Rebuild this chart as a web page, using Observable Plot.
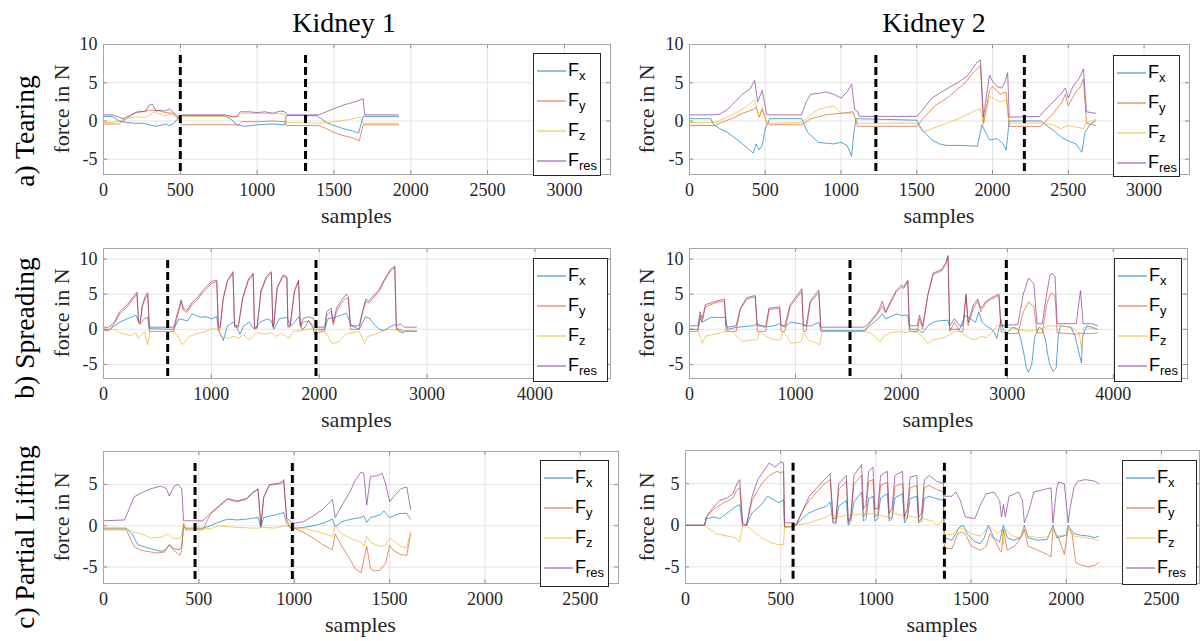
<!DOCTYPE html>
<html><head><meta charset="utf-8">
<script src="https://cdn.jsdelivr.net/npm/d3@7"></script>
<script src="https://cdn.jsdelivr.net/npm/@observablehq/plot@0.6"></script>
<style>
body{margin:0;background:#fff;}
#root{position:relative;width:1200px;height:641px;overflow:hidden;background:#fff;font-family:"Liberation Serif",serif;color:#262626}
.abs{position:absolute}
.title{font-size:28px;transform:translate(-50%,-50%);white-space:nowrap;color:#000}
.rowlab{font-size:27.5px;transform:translate(-50%,-50%) rotate(-90deg);white-space:nowrap;color:#000}
.ylab{font-size:22px;transform:translate(-50%,-50%) rotate(-90deg);white-space:nowrap}
.xlab{font-size:22px;transform:translate(-50%,-50%);white-space:nowrap}
.legend{box-sizing:border-box;border:1px solid #262626;background:#fff;font-family:"Liberation Sans",Arial,sans-serif;color:#000}
.legend .ent{position:absolute;left:0;height:30px;width:100%}
.legend .F{position:absolute;font-size:18px;line-height:18px}
.legend sub{font-size:13px;position:relative;top:4px;vertical-align:baseline}
</style></head><body><div id="root"></div><script>
// ---------------- categories / labels ----------------
const kidneys = ["Kidney 1", "Kidney 2"];
const tasks = ["a) Tearing", "b) Spreading", "c) Partial Lifting"];
const seriesNames = ["x", "y", "z", "res"];
const seriesColors = ["#0072BD", "#D95319", "#EDB120", "#7E2F8E"];
const xTicksTear = [0, 500, 1000, 1500, 2000, 2500, 3000];
const xTicksSpread = [0, 1000, 2000, 3000, 4000];
const xTicksLift = [0, 500, 1000, 1500, 2000, 2500];
const yTicksTear = [-5, 0, 5, 10];
const yTicksSpread = [-5, 0, 5, 10];
const yTicksLift = [-5, 0, 5];
const xAxisLabel = "samples";
const yAxisLabel = "force in N";

// ---------------- dashed phase separators (samples) ----------------
const dashK1Tear = [500, 1315];
const dashK2Tear = [1230, 2210];
const dashK1Spread = [595, 1970];
const dashK2Spread = [1515, 2990];
const dashK1Lift = [480, 990];
const dashK2Lift = [565, 1360];

// ---------------- Kidney 1, Tearing ----------------
const k1TearFx = [[0,0.6],[60,0.6],[100,0.0],[150,-0.2],[200,-0.3],[250,-0.3],[300,-0.5],[340,-0.7],[370,-0.6],[400,-0.4],[430,-0.6],[460,-0.3],[490,0.5],[520,0.7],[790,0.7],[830,0.2],[870,-0.5],[920,-0.7],[1000,-0.5],[1100,-0.4],[1180,-0.5],[1190,0.7],[1390,0.7],[1450,-0.2],[1500,-0.6],[1560,-1.0],[1620,-1.3],[1660,-1.6],[1690,0.6],[1920,0.6]];
const k1TearFy = [[0,-0.4],[100,-0.4],[150,0.3],[200,1.0],[250,1.2],[300,1.4],[350,1.4],[400,1.1],[450,1.0],[490,0.3],[510,-0.5],[880,-0.5],[900,-0.1],[1000,-0.1],[1100,0.0],[1180,-0.1],[1190,-0.6],[1400,-0.6],[1450,-1.0],[1500,-1.5],[1560,-1.9],[1620,-2.2],[1665,-2.6],[1690,-0.5],[1920,-0.5]];
const k1TearFz = [[0,-0.2],[60,-0.2],[150,0.3],[200,0.5],[280,0.5],[330,1.2],[370,0.9],[400,0.7],[440,0.9],[490,0.3],[510,0.6],[880,0.6],[900,1.0],[1000,1.0],[1100,1.0],[1180,0.9],[1190,-0.2],[1400,-0.3],[1500,-0.1],[1600,0.2],[1670,0.5],[1690,-0.3],[1920,-0.3]];
const k1TearFres = [[0,0.8],[60,0.8],[100,0.5],[130,0.3],[180,0.8],[230,1.3],[270,1.2],[300,2.1],[320,2.2],[340,1.3],[370,1.4],[400,1.3],[430,1.6],[450,1.2],[490,0.5],[510,0.8],[790,0.8],[850,0.5],[870,0.6],[890,1.2],[950,1.2],[1000,1.1],[1050,1.2],[1100,1.0],[1150,1.3],[1180,1.2],[1200,0.8],[1400,0.8],[1450,1.2],[1500,1.6],[1550,2.0],[1600,2.3],[1650,2.6],[1690,2.9],[1700,0.8],[1920,0.8]];

// ---------------- Kidney 2, Tearing ----------------
const k2TearFx = [[0,0.3],[140,0.3],[160,-0.5],[200,-1.0],[250,-1.5],[320,-2.5],[380,-3.5],[420,-4.2],[440,-3.0],[460,-3.8],[480,-3.2],[500,-1.0],[530,0.3],[740,0.3],[780,-1.5],[850,-2.8],[950,-3.0],[1000,-2.8],[1040,-3.2],[1070,-4.6],[1085,-1.5],[1100,0.3],[1500,0.1],[1530,-1.0],[1600,-2.5],[1650,-3.0],[1700,-3.2],[1800,-3.2],[1900,-3.3],[1930,-0.5],[1980,-2.5],[2030,-2.3],[2070,-3.0],[2090,-3.8],[2110,0.0],[2320,0.0],[2350,-0.5],[2400,-1.2],[2460,-2.2],[2500,-2.6],[2550,-3.0],[2590,-4.1],[2610,-1.5],[2650,-0.3],[2680,0.0]];
const k2TearFy = [[0,-0.6],[170,-0.6],[200,-0.3],[300,0.5],[350,1.0],[420,1.5],[440,1.8],[460,0.5],[480,1.5],[510,-0.2],[530,-0.5],[740,-0.5],[800,0.3],[900,0.8],[1000,1.0],[1080,1.2],[1110,-0.7],[1500,-0.7],[1550,0.5],[1620,2.0],[1700,3.0],[1760,4.0],[1820,5.0],[1880,6.5],[1920,7.2],[1940,-0.3],[1980,4.0],[2000,4.5],[2050,3.5],[2090,3.8],[2110,-0.7],[2320,-0.7],[2400,1.0],[2460,2.5],[2480,3.5],[2500,2.0],[2540,3.5],[2580,4.5],[2600,5.5],[2620,-0.3],[2680,-0.6]];
const k2TearFz = [[0,-0.2],[170,-0.2],[250,0.5],[300,1.0],[370,1.8],[430,2.8],[460,0.5],[480,1.8],[510,-0.3],[740,-0.2],[780,0.5],[850,1.5],[950,2.0],[1000,1.0],[1080,1.0],[1110,-0.3],[1500,-0.3],[1540,-1.5],[1600,-1.0],[1700,-0.3],[1800,0.5],[1880,1.3],[1920,1.6],[1940,-0.5],[1980,3.2],[2000,3.0],[2050,2.5],[2090,2.8],[2110,-0.3],[2320,-0.3],[2400,-0.5],[2450,-1.0],[2500,-0.6],[2550,-0.8],[2600,-1.0],[2620,-0.2],[2680,0.2]];
const k2TearFres = [[0,0.8],[150,0.8],[200,0.9],[250,1.5],[300,2.5],[350,3.5],[400,4.2],[430,5.3],[450,2.5],[480,4.0],[510,0.8],[740,0.8],[770,2.5],[800,3.5],[850,3.6],[900,3.8],[950,3.5],[1000,3.0],[1040,3.8],[1070,4.8],[1090,1.5],[1110,1.3],[1120,0.6],[1500,0.6],[1540,1.5],[1600,3.0],[1680,4.0],[1770,5.0],[1840,6.0],[1890,7.5],[1920,8.0],[1940,0.5],[1980,6.0],[2000,5.2],[2030,4.5],[2060,4.3],[2080,5.0],[2100,6.3],[2110,0.5],[2310,0.6],[2350,1.5],[2400,2.5],[2450,3.5],[2480,4.3],[2500,3.0],[2530,4.5],[2570,5.5],[2600,6.8],[2620,1.2],[2680,1.0]];

// ---------------- Kidney 1, Spreading ----------------
const k1SpreadFx = [[0,0.0],[60,0.0],[100,0.5],[150,1.0],[220,1.5],[300,2.0],[325,1.0],[340,0.8],[380,1.5],[410,1.7],[425,0.1],[650,0.0],[700,1.5],[780,1.2],[820,2.2],[900,1.7],[950,1.8],[1000,1.5],[1050,1.8],[1065,0.0],[1110,-1.6],[1150,0.5],[1200,1.0],[1230,0.5],[1265,-0.7],[1300,0.5],[1350,1.0],[1400,0.0],[1450,1.0],[1520,1.5],[1556,1.2],[1580,0.0],[1630,1.5],[1700,1.7],[1740,0.5],[1770,1.0],[1810,1.8],[1840,0.0],[1870,0.3],[1900,1.2],[1940,0.3],[1960,-0.8],[1980,0.0],[2050,0.0],[2080,1.5],[2150,1.7],[2200,2.0],[2250,2.3],[2300,0.5],[2370,0.0],[2430,1.8],[2470,1.5],[2520,0.5],[2560,0.0],[2600,-0.2],[2650,0.3],[2700,0.7],[2740,-0.3],[2780,-0.5],[2800,-0.2],[2900,-0.3]];
const k1SpreadFy = [[0,-0.2],[50,-0.2],[100,0.8],[150,2.2],[220,3.2],[270,4.2],[310,5.0],[325,0.9],[340,0.7],[360,3.2],[390,4.5],[410,4.9],[425,-0.3],[650,-0.3],[690,2.2],[720,3.9],[740,2.7],[775,2.4],[820,3.5],[870,4.2],[920,5.2],[970,6.0],[1000,6.5],[1050,6.8],[1065,-0.2],[1081,0.0],[1110,4.3],[1150,6.8],[1200,8.0],[1215,0.3],[1250,0.3],[1290,4.3],[1340,6.8],[1387,7.8],[1400,0.1],[1423,0.1],[1460,5.3],[1510,7.3],[1556,8.0],[1570,0.3],[1578,0.3],[1610,5.8],[1664,7.5],[1700,7.3],[1710,0.3],[1730,0.3],[1770,5.3],[1808,6.8],[1825,0.3],[1850,1.0],[1900,1.2],[1950,0.5],[1965,-0.5],[2050,-0.3],[2070,2.0],[2110,2.6],[2130,0.6],[2160,2.5],[2200,3.6],[2250,4.5],[2270,4.3],[2290,0.0],[2370,0.0],[2400,2.2],[2432,4.0],[2460,3.7],[2497,4.4],[2550,5.3],[2600,6.8],[2660,8.3],[2700,8.8],[2715,0.0],[2750,0.0],[2790,-0.3],[2900,-0.3]];
const k1SpreadFz = [[0,-0.1],[100,0.0],[150,-0.5],[250,-0.9],[300,-0.5],[320,-1.3],[350,-0.8],[380,-0.3],[410,-2.2],[430,-0.3],[650,-0.3],[690,-1.0],[730,-2.2],[770,-1.5],[800,-1.0],[850,-0.7],[950,-0.3],[1000,0.1],[1060,0.0],[1090,-1.0],[1150,-1.3],[1200,-1.0],[1250,-1.3],[1300,-0.8],[1350,-1.5],[1420,-0.5],[1500,-0.7],[1560,-0.5],[1600,-1.0],[1650,-0.6],[1720,-1.3],[1760,-0.3],[1840,-0.2],[1900,0.0],[1940,0.2],[1980,0.0],[2050,-0.3],[2080,-1.0],[2120,-2.0],[2180,-1.8],[2240,-0.7],[2300,-0.5],[2370,-0.3],[2420,-2.0],[2450,-1.0],[2500,-0.8],[2580,-0.3],[2650,0.0],[2700,-0.1],[2800,-0.3],[2900,-0.2]];
const k1SpreadFres = [[0,0.3],[50,0.3],[100,1.0],[150,2.5],[220,3.5],[270,4.5],[310,5.3],[325,1.2],[340,1.0],[360,3.5],[390,4.8],[410,5.2],[425,0.3],[650,0.3],[690,2.5],[720,4.2],[740,3.0],[775,2.7],[820,3.8],[870,4.5],[920,5.5],[970,6.3],[1000,6.8],[1050,7.0],[1065,0.3],[1081,0.3],[1110,4.5],[1150,7.0],[1200,8.2],[1215,0.5],[1250,0.5],[1290,4.5],[1340,7.0],[1387,8.0],[1400,0.3],[1423,0.3],[1460,5.5],[1510,7.5],[1556,8.2],[1570,0.5],[1578,0.5],[1610,6.0],[1664,7.7],[1700,7.5],[1710,0.5],[1730,0.5],[1770,5.5],[1808,7.0],[1825,0.5],[1850,1.5],[1900,1.8],[1950,1.5],[1965,0.3],[2050,0.3],[2070,2.5],[2110,3.0],[2130,1.0],[2160,3.0],[2200,4.0],[2250,5.0],[2270,4.6],[2290,0.5],[2370,0.5],[2400,2.5],[2432,4.3],[2460,4.0],[2497,4.7],[2550,5.5],[2600,7.0],[2660,8.5],[2700,9.0],[2715,0.5],[2750,0.8],[2790,0.3],[2900,0.3]];

// ---------------- Kidney 2, Spreading ----------------
const k2SpreadFx = [[0,0.0],[80,0.0],[100,1.5],[120,1.0],[200,1.7],[340,1.7],[360,0.0],[450,0.3],[600,0.5],[640,0.8],[700,0.3],[800,0.5],[850,0.8],[900,0.3],[950,1.0],[1050,0.8],[1100,0.5],[1150,0.5],[1220,1.0],[1240,0.0],[1260,-0.2],[1650,-0.2],[1700,0.5],[1780,1.5],[1820,2.2],[1850,1.5],[1900,1.8],[1950,2.2],[2000,2.0],[2060,2.0],[2080,0.0],[2150,0.0],[2200,-0.5],[2250,0.5],[2300,1.0],[2350,1.2],[2440,1.3],[2460,0.0],[2550,0.0],[2600,2.0],[2650,1.5],[2700,1.0],[2730,2.5],[2760,1.0],[2800,0.5],[2850,0.0],[2880,-0.5],[2900,-1.3],[2940,1.4],[2960,0.0],[3000,-0.5],[3050,0.3],[3100,0.0],[3120,-1.0],[3150,-3.0],[3180,-5.5],[3200,-6.1],[3230,-5.0],[3260,-1.0],[3300,0.3],[3330,0.0],[3360,-1.5],[3380,-3.5],[3400,-5.0],[3430,-6.0],[3460,-5.5],[3480,-1.0],[3500,0.5],[3600,0.3],[3640,-1.0],[3670,-3.0],[3700,-4.8],[3710,-1.0],[3750,0.5],[3800,0.3],[3850,0.0]];
const k2SpreadFy = [[0,-0.3],[80,-0.3],[100,2.0],[120,1.0],[150,3.2],[250,3.8],[330,4.0],[345,-0.3],[440,-0.3],[480,2.8],[540,4.3],[620,4.6],[640,-0.3],[720,-0.3],[750,2.8],[850,3.0],[865,-0.3],[900,-0.3],[950,3.2],[1000,4.2],[1060,5.4],[1075,-0.3],[1100,-0.3],[1140,3.8],[1220,5.2],[1240,-0.3],[1650,-0.3],[1700,0.8],[1780,2.3],[1820,3.3],[1850,2.3],[1900,3.8],[1950,5.3],[2000,6.0],[2020,5.8],[2060,6.8],[2075,-0.3],[2150,-0.3],[2170,1.5],[2200,0.0],[2250,4.8],[2300,7.8],[2380,8.3],[2420,9.3],[2440,10.3],[2455,-0.3],[2500,1.0],[2550,-0.3],[2580,-0.3],[2610,4.8],[2630,0.5],[2680,3.0],[2720,4.0],[2750,2.5],[2800,3.8],[2850,4.3],[2920,4.8],[2940,-0.3],[3000,-0.6],[3100,-0.6],[3150,2.5],[3200,3.9],[3250,3.2],[3280,-0.5],[3330,-0.5],[3370,3.5],[3400,4.8],[3420,5.2],[3450,4.8],[3470,-0.5],[3650,-0.7],[3690,-0.5],[3715,-0.6],[3800,-0.6],[3850,-0.5]];
const k2SpreadFz = [[0,-0.3],[80,-0.3],[100,-1.0],[120,-2.0],[150,-1.0],[200,-0.8],[300,-0.5],[350,-0.2],[400,-0.3],[460,-1.2],[500,-1.7],[600,-1.5],[640,-1.5],[660,-0.3],[720,-1.0],[800,-1.5],[860,-1.5],[880,-0.3],[920,-1.0],[960,-2.0],[1050,-1.8],[1080,-0.5],[1120,-1.5],[1200,-2.0],[1230,-2.2],[1250,-0.3],[1650,-0.3],[1700,-0.5],[1750,-1.0],[1800,-1.8],[1830,-1.0],[1900,-0.5],[2000,-0.3],[2050,-0.5],[2080,-0.3],[2150,-0.5],[2200,-1.0],[2250,-2.0],[2300,-1.5],[2400,-1.2],[2450,-0.8],[2500,-0.3],[2550,-0.3],[2600,-0.8],[2650,-1.3],[2700,-1.5],[2750,-1.0],[2800,-1.2],[2850,-0.5],[2900,0.5],[2950,0.6],[3000,0.3],[3100,0.0],[3200,-0.3],[3300,0.0],[3400,0.5],[3500,0.5],[3600,0.3],[3680,-0.5],[3700,-3.0],[3720,0.3],[3850,0.0]];
const k2SpreadFres = [[0,0.5],[80,0.5],[100,2.5],[120,1.5],[150,3.5],[250,4.0],[330,4.3],[345,0.5],[360,0.3],[440,0.5],[480,3.0],[540,4.5],[620,4.8],[640,0.5],[720,0.5],[750,3.0],[850,3.2],[865,0.5],[900,0.5],[950,3.5],[1000,4.5],[1060,5.8],[1075,0.5],[1100,0.5],[1140,4.0],[1220,5.6],[1240,0.3],[1650,0.3],[1700,1.0],[1780,2.5],[1820,4.0],[1850,2.5],[1900,4.0],[1950,5.5],[2000,6.3],[2020,6.0],[2060,7.0],[2075,0.5],[2150,0.5],[2170,2.0],[2200,0.5],[2250,5.0],[2300,8.0],[2380,8.5],[2420,9.5],[2440,10.5],[2455,0.5],[2500,1.5],[2550,0.5],[2580,0.5],[2610,5.0],[2630,1.0],[2680,3.5],[2720,4.3],[2750,3.0],[2800,4.0],[2850,4.5],[2920,5.0],[2940,0.5],[3100,0.7],[3150,5.0],[3200,7.3],[3250,6.5],[3280,0.8],[3330,0.8],[3370,5.0],[3400,7.5],[3420,8.0],[3450,7.5],[3470,0.8],[3650,0.8],[3690,5.5],[3715,0.8],[3800,0.8],[3850,0.5]];

// ---------------- Kidney 1, Partial Lifting ----------------
const k1LiftFx = [[0,-0.3],[120,-0.3],[150,-1.0],[180,-2.3],[250,-2.8],[300,-3.1],[320,-3.0],[345,-2.3],[370,-2.8],[400,-2.9],[410,-2.5],[420,0.0],[430,-0.3],[520,-0.3],[560,0.0],[600,0.4],[650,0.8],[700,0.7],[750,0.8],[810,1.0],[825,-0.2],[840,1.0],[900,1.3],[945,1.6],[960,0.3],[980,-0.2],[1000,-0.3],[1050,-0.2],[1100,0.0],[1150,0.3],[1200,0.8],[1215,-0.1],[1250,0.5],[1300,0.8],[1350,1.0],[1365,1.2],[1380,0.4],[1400,1.0],[1450,1.3],[1470,1.8],[1500,1.0],[1530,1.3],[1560,1.5],[1590,1.5],[1610,0.8]];
const k1LiftFy = [[0,-0.5],[120,-0.5],[160,-2.5],[200,-3.0],[280,-3.3],[320,-3.2],[345,-2.3],[370,-3.0],[400,-3.6],[410,-3.0],[420,0.3],[430,-0.5],[520,-0.5],[560,1.4],[610,2.4],[650,3.2],[700,2.9],[750,3.2],[780,3.9],[810,4.4],[825,-0.1],[840,3.4],[870,4.9],[930,5.1],[945,5.4],[960,0.8],[980,-0.3],[1000,-0.3],[1050,-0.8],[1100,-1.5],[1150,-2.3],[1200,-2.9],[1215,-1.0],[1250,-2.5],[1290,-4.0],[1320,-5.2],[1350,-5.7],[1380,-2.5],[1400,-5.2],[1420,-5.5],[1450,-5.4],[1480,-4.5],[1500,-2.4],[1520,-3.0],[1560,-3.5],[1590,-3.6],[1610,-1.0]];
const k1LiftFz = [[0,-0.3],[110,-0.3],[150,-0.7],[200,-1.0],[250,-1.5],[300,-1.4],[340,-1.0],[360,-1.5],[400,-1.6],[410,-1.0],[420,0.3],[430,-0.3],[520,-0.3],[560,-0.4],[600,0.0],[700,-0.2],[800,-0.3],[850,-0.2],[900,-0.3],[950,0.0],[1000,-0.3],[1050,-0.3],[1100,-0.6],[1150,-0.9],[1200,-1.3],[1215,0.0],[1250,-1.0],[1300,-1.6],[1350,-2.0],[1365,-2.5],[1380,-1.3],[1400,-2.0],[1450,-2.5],[1480,-2.3],[1500,-1.5],[1530,-2.0],[1560,-2.5],[1590,-2.7],[1610,-0.7]];
const k1LiftFres = [[0,0.6],[110,0.7],[125,1.5],[160,3.5],[200,4.0],[250,4.5],[300,4.8],[330,4.5],[345,3.6],[370,4.8],[390,5.0],[410,4.5],[420,0.6],[520,0.6],[560,1.5],[610,2.5],[650,3.3],[700,3.0],[750,3.3],[780,4.0],[810,4.5],[825,0.0],[840,3.5],[870,5.0],[930,5.2],[945,5.6],[960,1.0],[980,0.5],[1000,0.3],[1050,0.5],[1100,1.2],[1150,2.0],[1200,3.2],[1215,1.0],[1250,2.5],[1290,4.0],[1320,5.5],[1350,6.5],[1365,6.3],[1380,2.5],[1400,6.0],[1420,6.0],[1450,6.2],[1460,6.4],[1480,5.0],[1500,2.9],[1520,3.5],[1560,4.5],[1590,4.7],[1610,2.0]];

// ---------------- Kidney 2, Partial Lifting ----------------
const k2LiftFx = [[0,0.0],[100,0.0],[110,0.8],[150,1.0],[180,0.8],[220,1.5],[260,2.2],[285,2.5],[300,0.0],[320,0.0],[350,1.5],[400,2.5],[430,3.5],[470,3.0],[490,2.7],[515,3.1],[520,-0.2],[570,-0.1],[580,0.0],[620,1.0],[650,1.5],[700,2.0],[740,2.3],[760,2.8],[775,0.3],[790,0.2],[805,2.3],[845,3.0],[855,0.0],[868,0.5],[885,2.8],[925,4.0],[935,0.5],[948,0.8],[962,3.2],[985,3.5],[995,0.5],[1010,0.8],[1025,3.3],[1060,3.8],[1070,0.5],[1085,0.8],[1100,3.3],[1140,3.8],[1150,0.3],[1165,0.8],[1180,3.2],[1215,3.5],[1225,0.3],[1240,0.5],[1255,3.2],[1280,3.5],[1320,3.2],[1355,3.0],[1360,-1.5],[1400,-1.8],[1440,-0.2],[1460,0.0],[1480,-1.0],[1520,-2.0],[1550,-2.2],[1570,-1.5],[1590,0.0],[1620,-1.5],[1650,-2.0],[1670,0.0],[1690,-1.5],[1720,-1.8],[1760,-1.5],[1780,0.0],[1800,-1.5],[1850,-1.8],[1900,-1.7],[1930,0.0],[1950,-1.5],[2000,-1.2],[2010,0.0],[2040,-1.0],[2080,-1.2],[2120,-1.3],[2150,-1.5],[2170,-1.3]];
const k2LiftFy = [[0,0.0],[100,0.0],[110,1.0],[150,2.0],[200,2.7],[250,3.3],[270,4.3],[285,4.5],[300,-0.1],[320,0.0],[350,3.0],[400,5.0],[440,6.0],[480,6.5],[500,6.3],[515,6.5],[520,-0.2],[570,-0.2],[580,0.0],[610,1.5],[650,3.0],[690,4.0],[730,5.0],[760,5.5],[775,0.3],[790,0.5],[805,4.3],[845,5.3],[855,0.3],[868,0.8],[885,5.0],[925,6.0],[935,1.0],[948,1.5],[962,5.3],[985,5.5],[995,1.0],[1010,1.3],[1025,4.8],[1060,5.2],[1070,0.8],[1085,1.0],[1100,4.7],[1140,5.0],[1150,0.7],[1165,1.0],[1180,4.5],[1215,4.8],[1225,0.5],[1240,0.8],[1255,4.5],[1280,4.8],[1320,4.3],[1355,4.0],[1360,-2.8],[1400,-2.8],[1430,-1.0],[1450,-0.8],[1470,-1.0],[1500,-2.5],[1550,-3.0],[1580,-2.5],[1600,-1.0],[1630,-2.0],[1650,-3.0],[1660,-3.2],[1670,-0.5],[1690,-3.0],[1730,-2.5],[1770,-1.2],[1780,-0.5],[1800,-2.5],[1850,-3.0],[1900,-3.5],[1920,-3.8],[1930,-0.5],[1960,-1.5],[1990,-3.5],[2010,-0.3],[2030,-1.0],[2050,-4.5],[2080,-4.8],[2120,-5.0],[2150,-4.8],[2170,-4.5]];
const k2LiftFz = [[0,0.0],[100,0.0],[130,-0.5],[160,-1.0],[220,-1.3],[260,-1.5],[285,-2.0],[300,0.0],[320,0.0],[360,-0.8],[400,-1.5],[440,-2.0],[480,-2.3],[515,-2.3],[520,-0.2],[570,-0.1],[580,0.0],[650,0.3],[700,0.7],[740,1.0],[760,1.3],[800,1.0],[845,1.2],[900,1.3],[960,1.4],[1000,1.3],[1060,1.0],[1080,1.5],[1140,1.2],[1200,1.0],[1250,0.8],[1300,0.5],[1320,0.0],[1340,0.3],[1355,0.7],[1360,-1.1],[1400,-1.1],[1440,-0.3],[1470,-0.5],[1500,-1.0],[1550,-1.3],[1580,-0.5],[1600,-0.2],[1640,-1.0],[1660,-0.5],[1670,-2.3],[1680,-0.5],[1720,-1.3],[1760,-1.5],[1780,-0.2],[1800,-1.3],[1850,-1.5],[1900,-1.4],[1930,-0.3],[1950,-1.3],[2000,-1.2],[2010,-0.3],[2040,-1.3],[2100,-1.5],[2150,-1.7],[2170,-1.8]];
const k2LiftFres = [[0,0.0],[100,0.0],[110,1.0],[140,2.0],[180,3.0],[220,3.3],[250,3.8],[270,5.0],[285,5.5],[300,0.3],[320,0.0],[350,3.5],[380,5.5],[410,6.5],[440,7.5],[470,7.0],[500,7.6],[515,7.5],[520,0.3],[570,0.3],[580,0.0],[610,1.5],[650,3.5],[690,4.5],[730,5.5],[760,6.2],[775,0.8],[790,0.8],[805,5.0],[845,6.0],[855,0.5],[868,1.0],[885,6.0],[925,7.3],[935,2.0],[948,2.5],[962,6.5],[985,7.0],[995,2.0],[1010,2.0],[1025,6.0],[1060,6.5],[1070,1.5],[1085,2.0],[1100,6.0],[1140,6.5],[1150,1.0],[1165,2.0],[1180,5.8],[1215,6.0],[1225,1.0],[1240,1.5],[1255,5.5],[1280,6.0],[1320,5.3],[1355,5.0],[1360,3.5],[1400,3.5],[1420,4.0],[1440,3.2],[1470,1.0],[1520,0.8],[1550,2.5],[1580,3.8],[1620,4.0],[1650,3.0],[1660,1.0],[1670,2.5],[1680,1.0],[1700,3.5],[1750,4.0],[1770,3.0],[1780,0.3],[1800,1.5],[1830,4.0],[1880,4.3],[1920,4.5],[1930,0.3],[1950,4.5],[1960,5.2],[1990,5.0],[2010,0.3],[2020,2.0],[2040,4.5],[2060,5.3],[2100,5.5],[2150,5.3],[2170,5.0]];

// ---------------- layout (positions / styles only) ----------------
const M = {l: 44, r: 3, t: 4, b: 34};
const panels = [
  {row: 0, col: 0, frame: [103, 44, 610, 174], xDom: [0, 3300], yDom: [-7, 10], xT: xTicksTear, yT: yTicksTear, dashY: [-6.6, 9], dash: dashK1Tear, s: [k1TearFx, k1TearFy, k1TearFz, k1TearFres], leg: [533, 53, 68, 123]},
  {row: 0, col: 1, frame: [689, 44, 1189, 174], xDom: [0, 3300], yDom: [-7, 10], xT: xTicksTear, yT: yTicksTear, dashY: [-6.6, 9], dash: dashK2Tear, s: [k2TearFx, k2TearFy, k2TearFz, k2TearFres], leg: [1113, 55, 67, 122]},
  {row: 1, col: 0, frame: [103, 248, 610, 378], xDom: [0, 4700], yDom: [-7, 11.5], xT: xTicksSpread, yT: yTicksSpread, dashY: [-6.7, 10.3], dash: dashK1Spread, s: [k1SpreadFx, k1SpreadFy, k1SpreadFz, k1SpreadFres], leg: [533, 258, 75, 124]},
  {row: 1, col: 1, frame: [689, 248, 1187, 378], xDom: [0, 4700], yDom: [-7, 11.5], xT: xTicksSpread, yT: yTicksSpread, dashY: [-6.7, 10.3], dash: dashK2Spread, s: [k2SpreadFx, k2SpreadFy, k2SpreadFz, k2SpreadFres], leg: [1114, 258, 68, 124]},
  {row: 2, col: 0, frame: [103, 451, 618, 583], xDom: [0, 2700], yDom: [-7, 9], xT: xTicksLift, yT: yTicksLift, dashY: [-6.5, 7.9], dash: dashK1Lift, s: [k1LiftFx, k1LiftFy, k1LiftFz, k1LiftFres], leg: [540, 460, 69, 127]},
  {row: 2, col: 1, frame: [685, 450, 1199, 583], xDom: [0, 2700], yDom: [-7, 9], xT: xTicksLift, yT: yTicksLift, dashY: [-6.5, 7.9], dash: dashK2Lift, s: [k2LiftFx, k2LiftFy, k2LiftFz, k2LiftFres], leg: [1122, 460, 75, 125]}
];
const rowLabelY = [131, 328, 537];
const titlePos = [[344, 23], [934, 23]];

const root = document.getElementById("root");
function addDiv(cls, html, x, y) {
  const d = document.createElement("div");
  d.className = "abs " + cls;
  d.innerHTML = html;
  d.style.left = x + "px"; d.style.top = y + "px";
  root.appendChild(d);
  return d;
}

kidneys.forEach((k, i) => addDiv("title", k, titlePos[i][0], titlePos[i][1]));
tasks.forEach((t, i) => addDiv("rowlab", t, 25, rowLabelY[i]));

const fmt = d => String(d);
for (const p of panels) {
  const [l, t, r, b] = p.frame;
  const w = r - l, h = b - t;
  const [x0, x1] = p.xDom, [y0, y1] = p.yDom;
  const tx = 4 * (x1 - x0) / w, ty = 4 * (y1 - y0) / h; // 4px inner tick length
  const marks = [
    Plot.ruleX(p.xT, {x: d => d, stroke: "#e3e3e3"}),
    Plot.ruleY(p.yT, {y: d => d, stroke: "#e3e3e3"}),
    Plot.axisX(p.xT, {tickSize: 0, tickPadding: 9, tickFormat: fmt, label: null, fill: "#262626"}),
    Plot.axisY(p.yT, {tickSize: 0, tickPadding: 6, tickFormat: fmt, label: null, fill: "#262626"}),
    Plot.ruleX(p.xT, {x: d => d, y1: y0, y2: y0 + ty, stroke: "#8c8c8c"}),
    Plot.ruleX(p.xT, {x: d => d, y1: y1, y2: y1 - ty, stroke: "#8c8c8c"}),
    Plot.ruleY(p.yT, {y: d => d, x1: x0, x2: x0 + tx, stroke: "#8c8c8c"}),
    Plot.ruleY(p.yT, {y: d => d, x1: x1, x2: x1 - tx, stroke: "#8c8c8c"}),
    ...p.s.map((arr, i) => Plot.line(arr, {x: d => d[0], y: d => d[1], stroke: seriesColors[i], strokeOpacity: 0.65, strokeWidth: 1})),
    Plot.ruleX(p.dash, {x: d => d, y1: p.dashY[0], y2: p.dashY[1], stroke: "#000", strokeWidth: 3, strokeDasharray: "8,4"}),
    Plot.frame({stroke: "#a6a6a6"})
  ];
  const svg = Plot.plot({
    width: w + M.l + M.r, height: h + M.t + M.b,
    marginLeft: M.l, marginRight: M.r, marginTop: M.t, marginBottom: M.b,
    x: {domain: p.xDom, axis: null},
    y: {domain: p.yDom, axis: null},
    style: {fontFamily: "'Liberation Serif', serif", fontSize: "18px", background: "transparent", overflow: "visible"},
    marks
  });
  svg.style.position = "absolute";
  svg.style.left = (l - M.l) + "px";
  svg.style.top = (t - M.t) + "px";
  root.appendChild(svg);

  const cx = (l + r) / 2;
  addDiv("xlab", xAxisLabel, cx, b + 42);
  addDiv("ylab", yAxisLabel, p.col === 0 ? 62 : 647, (t + b) / 2);

  // legend
  const [lx, ly, lw, lh] = p.leg;
  const lg = addDiv("legend", "", lx, ly);
  lg.style.width = lw + "px"; lg.style.height = lh + "px";
  seriesNames.forEach((nm, i) => {
    const e = document.createElement("div");
    e.className = "ent";
    e.style.top = (2 + i * 30) + "px";
    e.innerHTML = `<svg width="32" height="30" style="position:absolute;left:3px;top:0"><line x1="0" x2="29" y1="15" y2="15" stroke="${seriesColors[i]}" stroke-opacity="0.45" stroke-width="2"/></svg><span class="F" style="left:34px;top:5px">F<sub>${nm}</sub></span>`;
    lg.appendChild(e);
  });
}
</script></body></html>
